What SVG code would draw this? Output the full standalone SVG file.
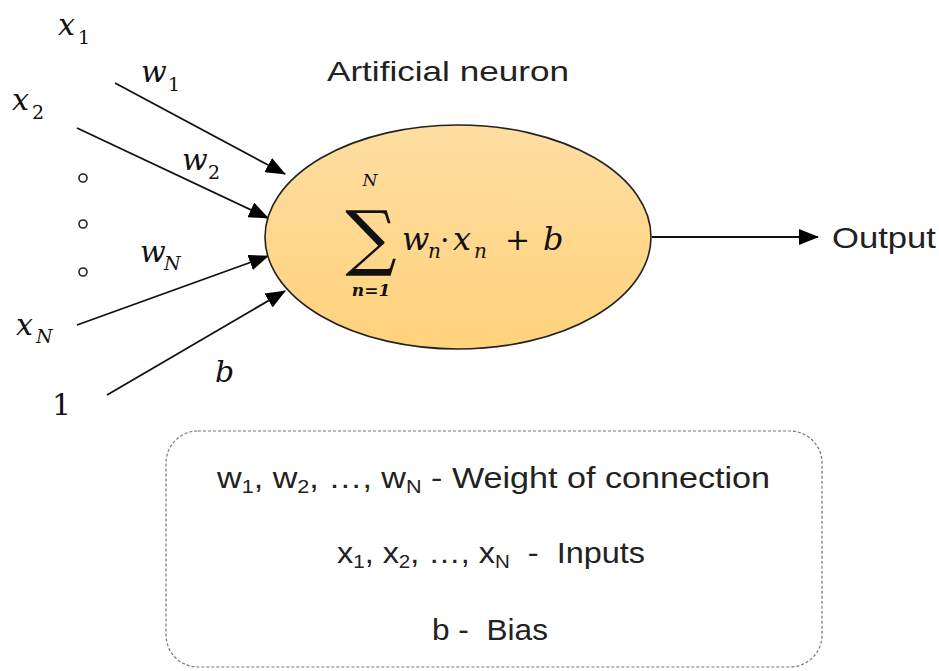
<svg xmlns="http://www.w3.org/2000/svg" width="939" height="671" viewBox="0 0 939 671">
<style>
.m{font-family:"DejaVu Serif","Liberation Serif",serif;font-style:italic;fill:#111}
.u{font-family:"DejaVu Serif","Liberation Serif",serif;font-style:normal;fill:#111}
.s{font-family:"Liberation Sans","Open Sans",sans-serif;fill:#222}
.ln{stroke:#111;stroke-width:1.8;fill:none}
.dot{fill:none;stroke:#222;stroke-width:1.6}
</style>
<defs>
<linearGradient id="g" x1="0" y1="0" x2="0" y2="1">
<stop offset="0" stop-color="#FFDEA2"/>
<stop offset="1" stop-color="#FFD27C"/>
</linearGradient>
<marker id="ah" markerUnits="userSpaceOnUse" markerWidth="20" markerHeight="16" refX="19" refY="8" orient="auto">
<path d="M0,0 L20,8 L0,16 Z" fill="#000"/>
</marker>
</defs>
<rect width="939" height="671" fill="#fff"/>
<g id="connectors">
<line class="ln" x1="115" y1="83" x2="285" y2="174" marker-end="url(#ah)"/>
<line class="ln" x1="77" y1="128" x2="268" y2="218" marker-end="url(#ah)"/>
<line class="ln" x1="77" y1="325" x2="268" y2="256" marker-end="url(#ah)"/>
<line class="ln" x1="107" y1="395" x2="285" y2="291" marker-end="url(#ah)"/>
<line class="ln" x1="652" y1="237" x2="818" y2="237" marker-end="url(#ah)"/>
</g>
<g id="inputs">
<text class="m" x="58" y="35" font-size="30">x</text><text class="u" x="78" y="44" font-size="19">1</text>
<text class="m" x="12" y="110" font-size="30">x</text><text class="u" x="32" y="119" font-size="19">2</text>
<text class="m" x="16" y="335" font-size="30">x</text><text class="m" x="36" y="343" font-size="19">N</text>
<text class="u" x="52" y="415" font-size="30">1</text>
<circle class="dot" cx="83" cy="178" r="4"/>
<circle class="dot" cx="83" cy="224" r="4"/>
<circle class="dot" cx="83" cy="272" r="4"/>
</g>
<g id="weights">
<text class="m" x="141" y="82" font-size="30">w</text><text class="u" x="168" y="91" font-size="19">1</text>
<text class="m" x="182" y="170" font-size="30">w</text><text class="u" x="208" y="179" font-size="19">2</text>
<text class="m" x="140" y="262" font-size="30">w</text><text class="m" x="164" y="270" font-size="19">N</text>
<text class="m" x="215" y="382" font-size="30">b</text>
</g>
<g id="neuron">
<text class="s" x="327" y="81" font-size="28" textLength="242" lengthAdjust="spacingAndGlyphs">Artificial neuron</text>
<ellipse cx="458" cy="237" rx="193" ry="112" fill="url(#g)" stroke="#222" stroke-width="1.6"/>
<text class="m" x="370" y="186" font-size="17" text-anchor="middle">N</text>
<text class="u" x="371" y="262" font-size="72" text-anchor="middle">∑</text>
<text class="m" x="371" y="296" font-size="17" text-anchor="middle" font-weight="bold">n=1</text>
<text class="m" x="402" y="250" font-size="32">w</text>
<text class="m" x="428" y="258" font-size="20">n</text>
<text class="u" x="440" y="250" font-size="30">·</text>
<text class="m" x="453" y="250" font-size="32">x</text>
<text class="m" x="474" y="258" font-size="20">n</text>
<text class="u" x="505" y="250" font-size="30">+</text>
<text class="m" x="543" y="250" font-size="32">b</text>
</g>
<g id="output">
<text class="s" x="832" y="248" font-size="30" textLength="104" lengthAdjust="spacingAndGlyphs">Output</text>
</g>
<g id="legend">
<rect x="166" y="431" width="656" height="236" rx="32" fill="none" stroke="#777" stroke-width="1.2" stroke-dasharray="3,2"/>
<text class="s" x="217" y="488" font-size="30" textLength="553" lengthAdjust="spacingAndGlyphs" xml:space="preserve">w<tspan font-size="19" dy="5">1</tspan><tspan dy="-5">, w</tspan><tspan font-size="19" dy="5">2</tspan><tspan dy="-5">, …, w</tspan><tspan font-size="19" dy="5">N</tspan><tspan dy="-5"> - Weight of connection</tspan></text>
<text class="s" x="337" y="563" font-size="30" textLength="308" lengthAdjust="spacingAndGlyphs" xml:space="preserve">x<tspan font-size="19" dy="5">1</tspan><tspan dy="-5">, x</tspan><tspan font-size="19" dy="5">2</tspan><tspan dy="-5">, …, x</tspan><tspan font-size="19" dy="5">N</tspan><tspan dy="-5">  -  Inputs</tspan></text>
<text class="s" x="432" y="640" font-size="30" textLength="116" lengthAdjust="spacingAndGlyphs" xml:space="preserve">b -  Bias</text>
</g>
</svg>
